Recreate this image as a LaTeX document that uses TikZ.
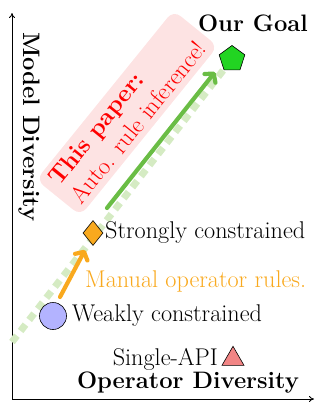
\documentclass[tikz,border=0pt]{standalone}
\usetikzlibrary{shapes.geometric,arrows.meta}
\definecolor{dashgreen}{HTML}{D5EBC3}
\definecolor{arrgreen}{HTML}{6ABD45}
\definecolor{goalgreen}{HTML}{22D422}
\definecolor{orng}{HTML}{F9A91E}
\definecolor{lblue}{HTML}{B3B3FF}
\definecolor{lred}{HTML}{F28585}
\definecolor{pinkbox}{HTML}{FDE3E3}
\begin{document}
\begin{tikzpicture}[x=1pt,y=-1pt,
  lbl/.style={font=\fontsize{24.2}{28}\selectfont, inner sep=0pt},
  blbl/.style={font=\fontsize{23.8}{28}\selectfont\bfseries, inner sep=0pt},
  axis/.style={line width=0.8pt, -{To[length=5pt,width=6pt]}},
  marker/.style={draw=black, line width=0.6pt, inner sep=0pt},
  thickarrow/.style={line width=4.2pt, line cap=round, -{Straight Barb[length=6pt,width=14pt,round]}},
  trend/.style={dashgreen, line width=7pt, dash pattern=on 8pt off 6pt}
]
\useasboundingbox (0,0) rectangle (323,402);
% axes
\coordinate (O) at (12,399);
\coordinate (Ytop) at (12,13);
\coordinate (Xend) at (314,399);
\draw[axis] (O) -- (Ytop);
\draw[axis] (O) -- (Xend);
% axis labels
\node[blbl, rotate=-90] (ylab) at (29,127) {Model Diversity};
\node[blbl] (xlab) at (188,383) {Operator Diversity};
% paper box
\node[fill=pinkbox, rounded corners=9pt, rotate=51, minimum width=218pt, minimum height=57pt,
      align=left, text=red, font=\fontsize{24.3}{29}\selectfont, inner sep=2pt] (box) at (127,113)
  {\textbf{This paper:}\\Auto. rule inference!};
% trend line and arrows
\coordinate (dstart) at (12,342);
\coordinate (gtail) at (107,208);
\coordinate (ghead) at (215,72);
\coordinate (otail) at (60,297);
\coordinate (ohead) at (85,250);
\coordinate (gpos) at (232,59);
\draw[trend] (dstart) -- (gpos);
\draw[thickarrow, arrgreen] (gtail) -- (ghead);
\draw[thickarrow, orng] (otail) -- (ohead);
% markers
\node[marker, regular polygon, regular polygon sides=5, fill=goalgreen, minimum size=27pt] (goal) at (gpos) {};
\node[marker, diamond, fill=orng, minimum width=20pt, minimum height=25pt] (strong) at (93,233) {};
\node[marker, circle, fill=lblue, minimum size=27pt] (weak) at (53,316) {};
\node[marker, isosceles triangle, isosceles triangle apex angle=60, shape border rotate=90, fill=lred, minimum width=22pt, minimum height=19pt] (single) at (233,359) {};
% labels
\node[blbl] (goallab) at (253,23) {Our Goal};
\node[lbl, anchor=west] (stronglab) at (105,233) {Strongly constrained};
\node[lbl, anchor=west] (weaklab) at (72,316) {Weakly constrained};
\node[lbl, anchor=east] (singlelab) at (218,359) {Single-API};
\node[lbl, anchor=west, text=orng] (manual) at (85,281) {Manual operator rules.};
\end{tikzpicture}
\end{document}
